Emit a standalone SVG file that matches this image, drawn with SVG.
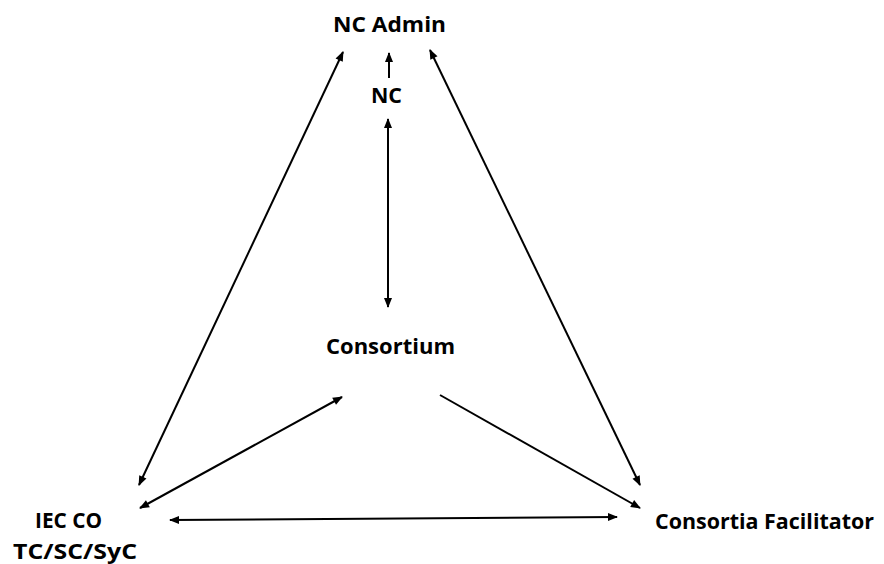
<svg xmlns="http://www.w3.org/2000/svg" width="884" height="564" viewBox="0 0 884 564">
<style>
text{font-family:"Open Sans","Liberation Sans",sans-serif;font-weight:bold;font-size:21.5px;fill:#000}
.c{stroke:#000;stroke-width:2;fill:none}
</style>
<defs>
<marker id="ah" viewBox="0 0 10 10" refX="9" refY="5" markerWidth="5.5" markerHeight="5" orient="auto-start-reverse" markerUnits="strokeWidth">
<path d="M0,1 L10,5 L0,9 z" fill="#000"/>
</marker>
</defs>
<rect width="884" height="564" fill="#fff"/>
<g id="connectors">
<line class="c" x1="389" y1="78" x2="389" y2="53" marker-end="url(#ah)"/>
<line class="c" x1="388" y1="119" x2="388" y2="307" marker-start="url(#ah)" marker-end="url(#ah)"/>
<line class="c" x1="343" y1="52" x2="139" y2="485" marker-start="url(#ah)" marker-end="url(#ah)"/>
<line class="c" x1="430" y1="50" x2="640" y2="485" marker-start="url(#ah)" marker-end="url(#ah)"/>
<line class="c" x1="342" y1="397" x2="140" y2="508" marker-start="url(#ah)" marker-end="url(#ah)"/>
<line class="c" x1="440" y1="395" x2="640" y2="508" marker-end="url(#ah)"/>
<line class="c" x1="170" y1="520" x2="617" y2="517" marker-start="url(#ah)" marker-end="url(#ah)"/>
</g>
<g id="nc-admin"><text x="333" y="32" textLength="113" lengthAdjust="spacingAndGlyphs">NC Admin</text></g>
<g id="nc"><text x="371" y="103" textLength="31" lengthAdjust="spacingAndGlyphs">NC</text></g>
<g id="consortium"><text x="326" y="354" textLength="129" lengthAdjust="spacingAndGlyphs">Consortium</text></g>
<g id="iec-co"><text x="35" y="528" textLength="67" lengthAdjust="spacingAndGlyphs">IEC CO</text><text x="13" y="559" textLength="124" lengthAdjust="spacingAndGlyphs">TC/SC/SyC</text></g>
<g id="facilitator"><text x="655" y="529" textLength="219" lengthAdjust="spacingAndGlyphs">Consortia Facilitator</text></g>
</svg>
